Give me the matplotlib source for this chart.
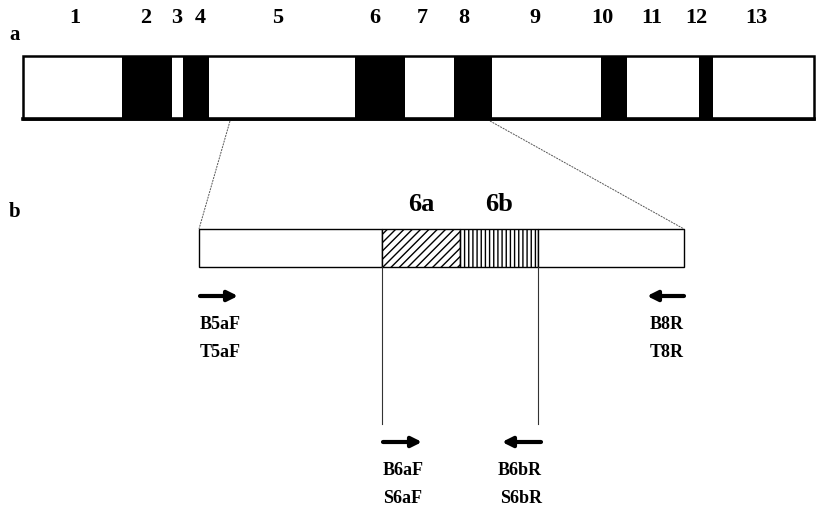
import matplotlib
matplotlib.use("Agg")
import matplotlib.pyplot as plt
from matplotlib.patches import Rectangle

# ---- data ----
exon_labels = ['1', '2', '3', '4', '5', '6', '7', '8', '9', '10', '11', '12', '13']
exon_edges = [23, 122, 172, 183, 209, 355, 405, 454, 492, 601, 627, 699, 713, 814]
exon_dark = [False, True, False, True, False, True, False, True, False, True, False, True, False]
exon_label_x = [75, 146, 177, 200, 278, 375, 422, 464, 535, 602, 652, 696, 756]

zoom_edges = [199, 382, 460, 538, 684]          # segment borders of the zoomed region
zoom_hatch = [None, '////', '||||', None]
zoom_names = ['', '6a', '6b', '']
zoom_source = [230, 490]                        # where the zoom lines leave bar a

primers = [
    # (arrow tail, arrow head, y, text x, align, names)
    (200, 238, 297, 200, 'left', ['B5aF', 'T5aF']),
    (684, 647, 297, 684, 'right', ['B8R', 'T8R']),
    (383, 422, 443, 383, 'left', ['B6aF', 'S6aF']),
    (541, 502, 443, 542, 'right', ['B6bR', 'S6bR']),
]

# ---- drawing ----
W, H = 816, 510
fig = plt.figure(figsize=(W / 100, H / 100), dpi=100)
ax = fig.add_axes([0, 0, 1, 1])
ax.set_xlim(0, W)
ax.set_ylim(H, 0)
ax.axis('off')

serif = ['Liberation Serif', 'DejaVu Serif']
plt.rcParams['hatch.linewidth'] = 1.0

# bar a
top_y0, top_y1 = 57, 120
for i in range(len(exon_labels)):
    x0, x1 = exon_edges[i], exon_edges[i + 1]
    ax.add_patch(Rectangle((x0, top_y0), x1 - x0, top_y1 - top_y0,
                           facecolor='black' if exon_dark[i] else 'white',
                           edgecolor='none', zorder=1))
    ax.text(exon_label_x[i], 18, exon_labels[i], ha='center', va='center',
            fontsize=16, fontweight='bold', family=serif)
ax.add_patch(Rectangle((exon_edges[0], top_y0), exon_edges[-1] - exon_edges[0],
                       top_y1 - top_y0, facecolor='none', edgecolor='black',
                       linewidth=1.8, zorder=2))
ax.plot([exon_edges[0], exon_edges[-1]], [top_y1, top_y1], color='black',
        linewidth=2.6, zorder=3)
ax.text(15, 35, 'a', ha='center', va='center', fontsize=15, fontweight='bold', family=serif)
ax.text(15, 212, 'b', ha='center', va='center', fontsize=15, fontweight='bold', family=serif)

# bar b
bot_y0, bot_y1 = 230, 268
for i in range(len(zoom_names)):
    x0, x1 = zoom_edges[i], zoom_edges[i + 1]
    ax.add_patch(Rectangle((x0, bot_y0), x1 - x0, bot_y1 - bot_y0,
                           facecolor='white', edgecolor='black',
                           hatch=zoom_hatch[i], linewidth=1.0, zorder=2))
    if zoom_names[i]:
        ax.text((x0 + x1) / 2, 205, zoom_names[i], ha='center', va='center',
                fontsize=19, fontweight='bold', family=serif)

# zoom lines
ax.plot([zoom_source[0], zoom_edges[0]], [top_y1 + 2, bot_y0], color='#555555',
        linewidth=0.7, linestyle=(0, (2, 1)))
ax.plot([zoom_source[1], zoom_edges[-1]], [top_y1 + 2, bot_y0], color='#555555',
        linewidth=0.7, linestyle=(0, (2, 1)))

# vertical lines down from 6a / 6b borders
for x in (zoom_edges[1], zoom_edges[3]):
    ax.plot([x, x], [bot_y1, 425], color='#333333', linewidth=0.8)

# primers
for tail, head, y, tx, align, names in primers:
    ax.annotate('', xy=(head, y), xytext=(tail, y),
                arrowprops=dict(arrowstyle='-|>,head_length=0.6,head_width=0.3',
                                color='black', linewidth=3.0, shrinkA=0, shrinkB=0))
    for j, name in enumerate(names):
        ax.text(tx, y + 28 + 28 * j, name, ha=align, va='center',
                fontsize=13, fontweight='bold', family=serif)

fig.savefig('out.png', dpi=100)
